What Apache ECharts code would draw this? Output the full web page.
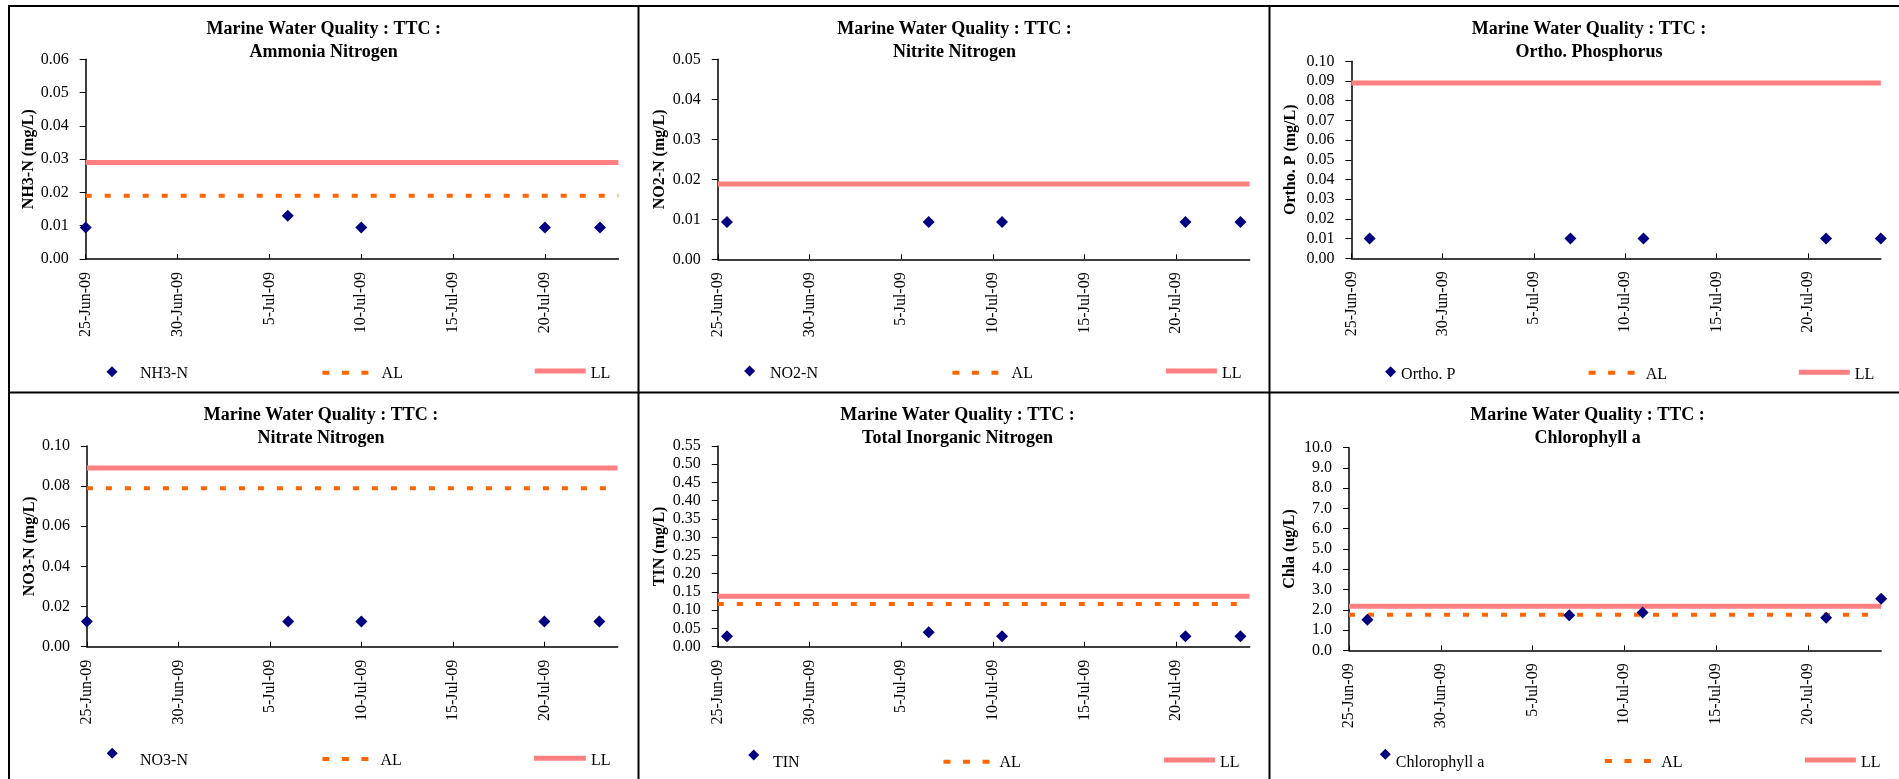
<!DOCTYPE html>
<html><head><meta charset="utf-8">
<script src="https://cdn.jsdelivr.net/npm/echarts@6/dist/echarts.min.js"></script>
<style>html,body{margin:0;padding:0;background:#fff}#c{width:1899px;height:779px}</style>
</head><body><div id="c"></div>
<script>
// ---------- DATA ----------
const axisDates = ['2009-06-25', '2009-07-24'];            // x-axis range (also AL/LL extent)
const xTickDates = ['2009-06-25','2009-06-30','2009-07-05','2009-07-10','2009-07-15','2009-07-20'];

const nh3Dates  = ['2009-06-25','2009-07-06','2009-07-10','2009-07-20','2009-07-23'];
const nh3Values = [0.0095, 0.013, 0.0095, 0.0095, 0.0095];
const nh3AL = 0.019, nh3LL = 0.029;
const nh3YTicks = [0, 0.01, 0.02, 0.03, 0.04, 0.05, 0.06];

const no2Dates  = ['2009-06-25 12:00','2009-07-06 12:00','2009-07-10 12:00','2009-07-20 12:00','2009-07-23 12:00'];
const no2Values = [0.0093, 0.0093, 0.0093, 0.0093, 0.0093];
const no2AL = null, no2LL = 0.0188;
const no2YTicks = [0, 0.01, 0.02, 0.03, 0.04, 0.05];

const opDates  = ['2009-06-26','2009-07-07','2009-07-11','2009-07-21','2009-07-24'];
const opValues = [0.01, 0.01, 0.01, 0.01, 0.01];
const opAL = null, opLL = 0.089;
const opYTicks = [0, 0.01, 0.02, 0.03, 0.04, 0.05, 0.06, 0.07, 0.08, 0.09, 0.10];

const no3Dates  = ['2009-06-25','2009-07-06','2009-07-10','2009-07-20','2009-07-23'];
const no3Values = [0.0125, 0.0125, 0.0125, 0.0125, 0.0125];
const no3AL = 0.079, no3LL = 0.089;
const no3YTicks = [0, 0.02, 0.04, 0.06, 0.08, 0.10];

const tinDates  = ['2009-06-25 12:00','2009-07-06 12:00','2009-07-10 12:00','2009-07-20 12:00','2009-07-23 12:00'];
const tinValues = [0.0285, 0.0395, 0.0285, 0.0285, 0.0285];
const tinAL = 0.117, tinLL = 0.138;
const tinYTicks = [0, 0.05, 0.10, 0.15, 0.20, 0.25, 0.30, 0.35, 0.40, 0.45, 0.50, 0.55];

const chlDates  = ['2009-06-26','2009-07-07','2009-07-11','2009-07-21','2009-07-24'];
const chlValues = [1.51, 1.73, 1.86, 1.61, 2.55];
const chlAL = 1.76, chlLL = 2.17;
const chlYTicks = [0, 1, 2, 3, 4, 5, 6, 7, 8, 9, 10];

const titles = ['Ammonia Nitrogen','Nitrite Nitrogen','Ortho. Phosphorus','Nitrate Nitrogen','Total Inorganic Nitrogen','Chlorophyll a'];
const titlePrefix = 'Marine Water Quality : TTC :';
const seriesNames = ['NH3-N','NO2-N','Ortho. P','NO3-N','TIN','Chlorophyll a'];
const yNames = ['NH3-N (mg/L)','NO2-N (mg/L)','Ortho. P (mg/L)','NO3-N (mg/L)','TIN (mg/L)','Chla (ug/L)'];

// ---------- HELPERS ----------
const FONT = '"Liberation Serif", "Times New Roman", serif';
const MON = ['Jan','Feb','Mar','Apr','May','Jun','Jul','Aug','Sep','Oct','Nov','Dec'];
function day(s) {
  const parts = s.split(' ');
  const [Y, M, D] = parts[0].split('-').map(Number);
  let v = Date.UTC(Y, M - 1, D) / 86400000;
  if (parts[1]) { const [h, m] = parts[1].split(':').map(Number); v += (h * 60 + m) / 1440; }
  return v;
}
function fmtDate(v) {
  const d = new Date(Math.round(v) * 86400000);
  return d.getUTCDate() + '-' + MON[d.getUTCMonth()] + '-' + String(d.getUTCFullYear() % 100).padStart(2, '0');
}

const panels = [
  {dates: nh3Dates, values: nh3Values, al: nh3AL, ll: nh3LL, ticks: nh3YTicks, dec: 2},
  {dates: no2Dates, values: no2Values, al: no2AL, ll: no2LL, ticks: no2YTicks, dec: 2},
  {dates: opDates,  values: opValues,  al: opAL,  ll: opLL,  ticks: opYTicks,  dec: 2},
  {dates: no3Dates, values: no3Values, al: no3AL, ll: no3LL, ticks: no3YTicks, dec: 2},
  {dates: tinDates, values: tinValues, al: tinAL, ll: tinLL, ticks: tinYTicks, dec: 2},
  {dates: chlDates, values: chlValues, al: chlAL, ll: chlLL, ticks: chlYTicks, dec: 1}
];

// ---------- LAYOUT (pixels) ----------
// legend entries: [iconLeft, textCenterY, iconRaise, textPadLeft, iconWidth]
const layout = [
  {grid:{left:85.7, top:59.3, width:532.7, height:199.7}, tx:323.7, ty:17.5, gap:46.6,
   lg:[[106.5,373.3,1.6,17.5,11],[322.4,373.3,0.6,8.2,46],[534.7,373.3,2.3,0,51]]},
  {grid:{left:717.8, top:59.3, width:531.8, height:200}, tx:954.5, ty:17.5, gap:49.9,
   lg:[[744.1,373.3,2.3,9.9,11],[952.4,373.3,0.6,8.2,46],[1165.9,373.3,2.3,0,51]]},
  {grid:{left:1351.4, top:61.3, width:529.4, height:197}, tx:1589, ty:17.5, gap:52.3,
   lg:[[1385.1,375,3.3,0,11],[1588.6,375,2.3,6.1,46],[1798.8,375,2.7,0,51]]},
  {grid:{left:86.9, top:446, width:530.7, height:200.7}, tx:321, ty:403.5, gap:47.8,
   lg:[[106.7,761,7.7,17.3,11],[322.4,761,2,7,46],[533.9,761,2.7,0,52]]},
  {grid:{left:717.8, top:446, width:531.8, height:200.7}, tx:957.6, ty:403.5, gap:50,
   lg:[[748.2,762.7,7.7,8.7,11],[943.5,762.7,1,4.9,46],[1163.9,762.7,2.7,0,51]]},
  {grid:{left:1349, top:447.7, width:532.2, height:202.6}, tx:1587.6, ty:403.5, gap:51.1,
   lg:[[1379.8,762.3,8,0,11],[1604.9,762.3,1.3,5.3,46],[1804.9,762.3,2.3,0,51]]}
];

const NAVY = '#000080', ORANGE = '#FF6600', PINK = '#FF8080';
const TEXT_LH = 18;

// legend icon paths; an invisible zero-length segment below the icon raises it relative to the text
function iconPath(kind, w, raise) {
  let body, h;
  if (kind === 'diamond') { body = 'M5.5,0L11,5.5L5.5,11L0,5.5Z'; h = 11; }
  else if (kind === 'dash') { body = 'M0,0h7v4h-7zM19.5,0h7v4h-7zM39,0h7v4h-7z'; h = 4; }
  else { body = 'M0,0h' + w + 'v5h-' + w + 'z'; h = 5; }
  const H = h + 2 * raise;
  if (raise > 0.05) body += 'M0,' + H.toFixed(2) + 'L0.01,' + H.toFixed(2) + 'Z';
  return {path: 'path://' + body, H: raise > 0.05 ? H : h};
}

const xMin = day(axisDates[0]), xMax = day(axisDates[1]);
const xTicks = xTickDates.map(day);

const option = {
  animation: false,
  backgroundColor: '#fff',
  textStyle: {fontFamily: FONT},
  title: [], legend: [], grid: [], xAxis: [], yAxis: [], series: [],
  graphic: [
    {type:'line', shape:{x1:8, y1:6, x2:1899, y2:6}, style:{stroke:'#000', lineWidth:2}},
    {type:'line', shape:{x1:9, y1:6, x2:9, y2:779}, style:{stroke:'#000', lineWidth:2}},
    {type:'line', shape:{x1:638.5, y1:6, x2:638.5, y2:779}, style:{stroke:'#000', lineWidth:2}},
    {type:'line', shape:{x1:1269.5, y1:6, x2:1269.5, y2:779}, style:{stroke:'#000', lineWidth:2}},
    {type:'line', shape:{x1:8, y1:392.5, x2:1899, y2:392.5}, style:{stroke:'#000', lineWidth:2}}
  ]
};

panels.forEach((p, i) => {
  const L = layout[i];
  option.grid.push(Object.assign({}, L.grid));
  option.title.push({
    text: titlePrefix + '\n' + titles[i], left: L.tx, top: L.ty, padding: 0,
    textAlign: 'center', textVerticalAlign: 'top',
    textStyle: {fontFamily: FONT, fontSize: 18, fontWeight: 'bold', color: '#000', lineHeight: 23}
  });
  option.xAxis.push({
    type: 'value', gridIndex: i, min: xMin, max: xMax, interval: 5,
    axisLine: {show: true, onZero: false, lineStyle: {color: '#000', width: 1.5}},
    axisTick: {show: true, inside: true, length: 5, lineStyle: {color: '#000'}, customValues: xTicks},
    axisLabel: {rotate: 90, margin: 13, fontFamily: FONT, fontSize: 16, color: '#000',
                formatter: fmtDate, customValues: xTicks},
    splitLine: {show: false}
  });
  const t = p.ticks;
  option.yAxis.push({
    type: 'value', gridIndex: i, min: t[0], max: t[t.length - 1], interval: t[1] - t[0],
    name: yNames[i], nameLocation: 'middle', nameRotate: 90, nameGap: L.gap,
    nameTextStyle: {fontFamily: FONT, fontSize: 16, fontWeight: 'bold', color: '#000'},
    axisLine: {show: true, lineStyle: {color: '#000', width: 1.5}},
    axisTick: {show: true, inside: false, length: 6, lineStyle: {color: '#000'}},
    axisLabel: {margin: 17, fontFamily: FONT, fontSize: 16, color: '#000',
                formatter: v => v.toFixed(p.dec)},
    splitLine: {show: false}
  });
  option.series.push({
    type: 'line', name: 'LL', xAxisIndex: i, yAxisIndex: i, silent: true, z: 2,
    data: p.ll == null ? [] : [[xMin, p.ll], [xMax, p.ll]],
    symbol: 'none', lineStyle: {color: PINK, width: 5, cap: 'butt'}, itemStyle: {color: PINK}
  });
  option.series.push({
    type: 'line', name: 'AL', xAxisIndex: i, yAxisIndex: i, silent: true, z: 3,
    data: p.al == null ? [] : [[xMin, p.al], [xMax, p.al]],
    symbol: 'none', lineStyle: {color: ORANGE, width: 4, type: [6, 13], cap: 'butt'}, itemStyle: {color: ORANGE}
  });
  option.series.push({
    type: 'scatter', name: seriesNames[i], xAxisIndex: i, yAxisIndex: i, z: 5,
    data: p.dates.map((d, k) => [day(d), p.values[k]]),
    symbol: 'diamond', symbolSize: [12, 12], itemStyle: {color: NAVY, opacity: 1}
  });
  const items = [
    {name: seriesNames[i], kind: 'diamond', color: NAVY},
    {name: 'AL', kind: 'dash', color: ORANGE},
    {name: 'LL', kind: 'rect', color: PINK}
  ];
  items.forEach((it, k) => {
    const g = L.lg[k];
    const ic = iconPath(it.kind, g[4], g[2]);
    const boxH = Math.max(ic.H, TEXT_LH);
    option.legend.push({
      data: [it.name], left: g[0], top: g[1] - boxH / 2, padding: 0, selectedMode: false,
      icon: ic.path, itemWidth: g[4], itemHeight: ic.H, symbolKeepAspect: true,
      itemStyle: {color: it.color, borderWidth: 0, opacity: 1},
      textStyle: {fontFamily: FONT, fontSize: 16, color: '#000', lineHeight: TEXT_LH, padding: [0, 0, 0, g[3]]}
    });
  });
});

const chart = echarts.init(document.getElementById('c'), null, {renderer: 'canvas'});
chart.setOption(option);
</script>
</body></html>
